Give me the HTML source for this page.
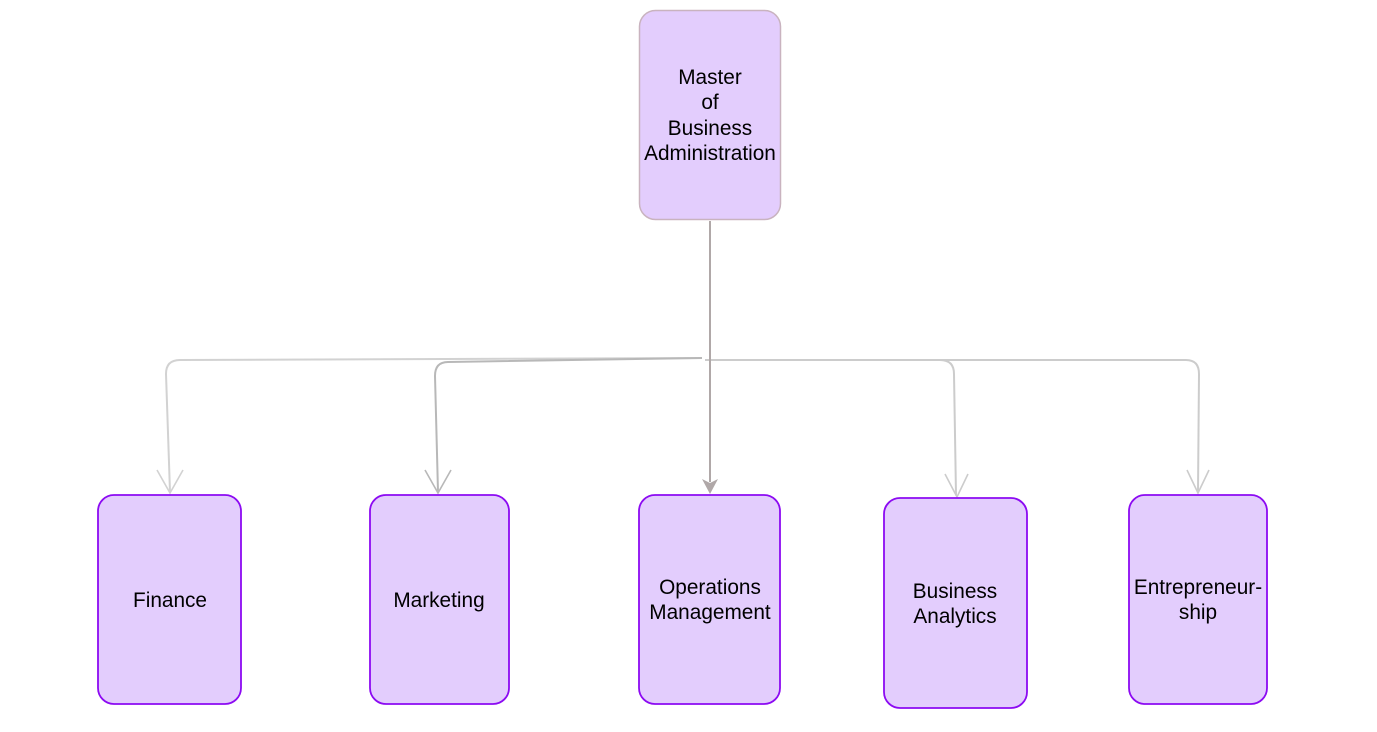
<!DOCTYPE html>
<html><head><meta charset="utf-8"><style>
html,body{margin:0;padding:0;background:#fff;}
svg{display:block;}
text{font-family:"Liberation Sans",Arial,sans-serif;font-size:20.8px;fill:#000;text-anchor:middle;}
</style></head><body>
<svg width="1377" height="732" viewBox="0 0 1377 732" xmlns="http://www.w3.org/2000/svg">
<g fill="none" stroke-width="2">
<path d="M702 358 L180 360 Q166 360 166 374 L170 492" stroke="#d2d2d2"/>
<path d="M702 358 L448 362 Q435 362 435 376 L438 492" stroke="#b8b8b8"/>
<path d="M705 360 L940 360 Q954 360 954 374 L956 495" stroke="#cccccc"/>
<path d="M705 360 L1186 360 Q1199 360 1199 374 L1198 492" stroke="#cccccc"/>
<path d="M710 221 L710 482" stroke="#b0a8a8"/>
</g>
<g fill="none" stroke-width="1.6">
<path d="M157 470 L170 493 L183 470" stroke="#d2d2d2"/>
<path d="M425 470 L438 493 L451 470" stroke="#b8b8b8"/>
<path d="M945 474 L957 497 L968 474" stroke="#cccccc"/>
<path d="M1187 470 L1198 493 L1209 470" stroke="#cccccc"/>
</g>
<path d="M702 479 L710 494 L718 479 L710 483 Z" fill="#b0a8a8"/>
<rect x="639.5" y="10.5" width="141" height="209" rx="16" fill="#e3cdfd" stroke="#c9b3bf" stroke-width="1.5"/>
<g fill="#e3cdfd" stroke="#8c0af2" stroke-width="1.8">
<rect x="98" y="495" width="143" height="209" rx="16"/>
<rect x="370" y="495" width="139" height="209" rx="16"/>
<rect x="639" y="495" width="141" height="209" rx="16"/>
<rect x="884" y="498" width="143" height="210" rx="16"/>
<rect x="1129" y="495" width="138" height="209" rx="16"/>
</g>
<text x="710" y="84">Master</text>
<text x="710" y="109">of</text>
<text x="710" y="135">Business</text>
<text x="710" y="160">Administration</text>
<text x="170" y="607">Finance</text>
<text x="439" y="607">Marketing</text>
<text x="710" y="594">Operations</text>
<text x="710" y="619">Management</text>
<text x="955" y="598">Business</text>
<text x="955" y="623">Analytics</text>
<text x="1198" y="594">Entrepreneur-</text>
<text x="1198" y="619">ship</text>
</svg>
</body></html>
